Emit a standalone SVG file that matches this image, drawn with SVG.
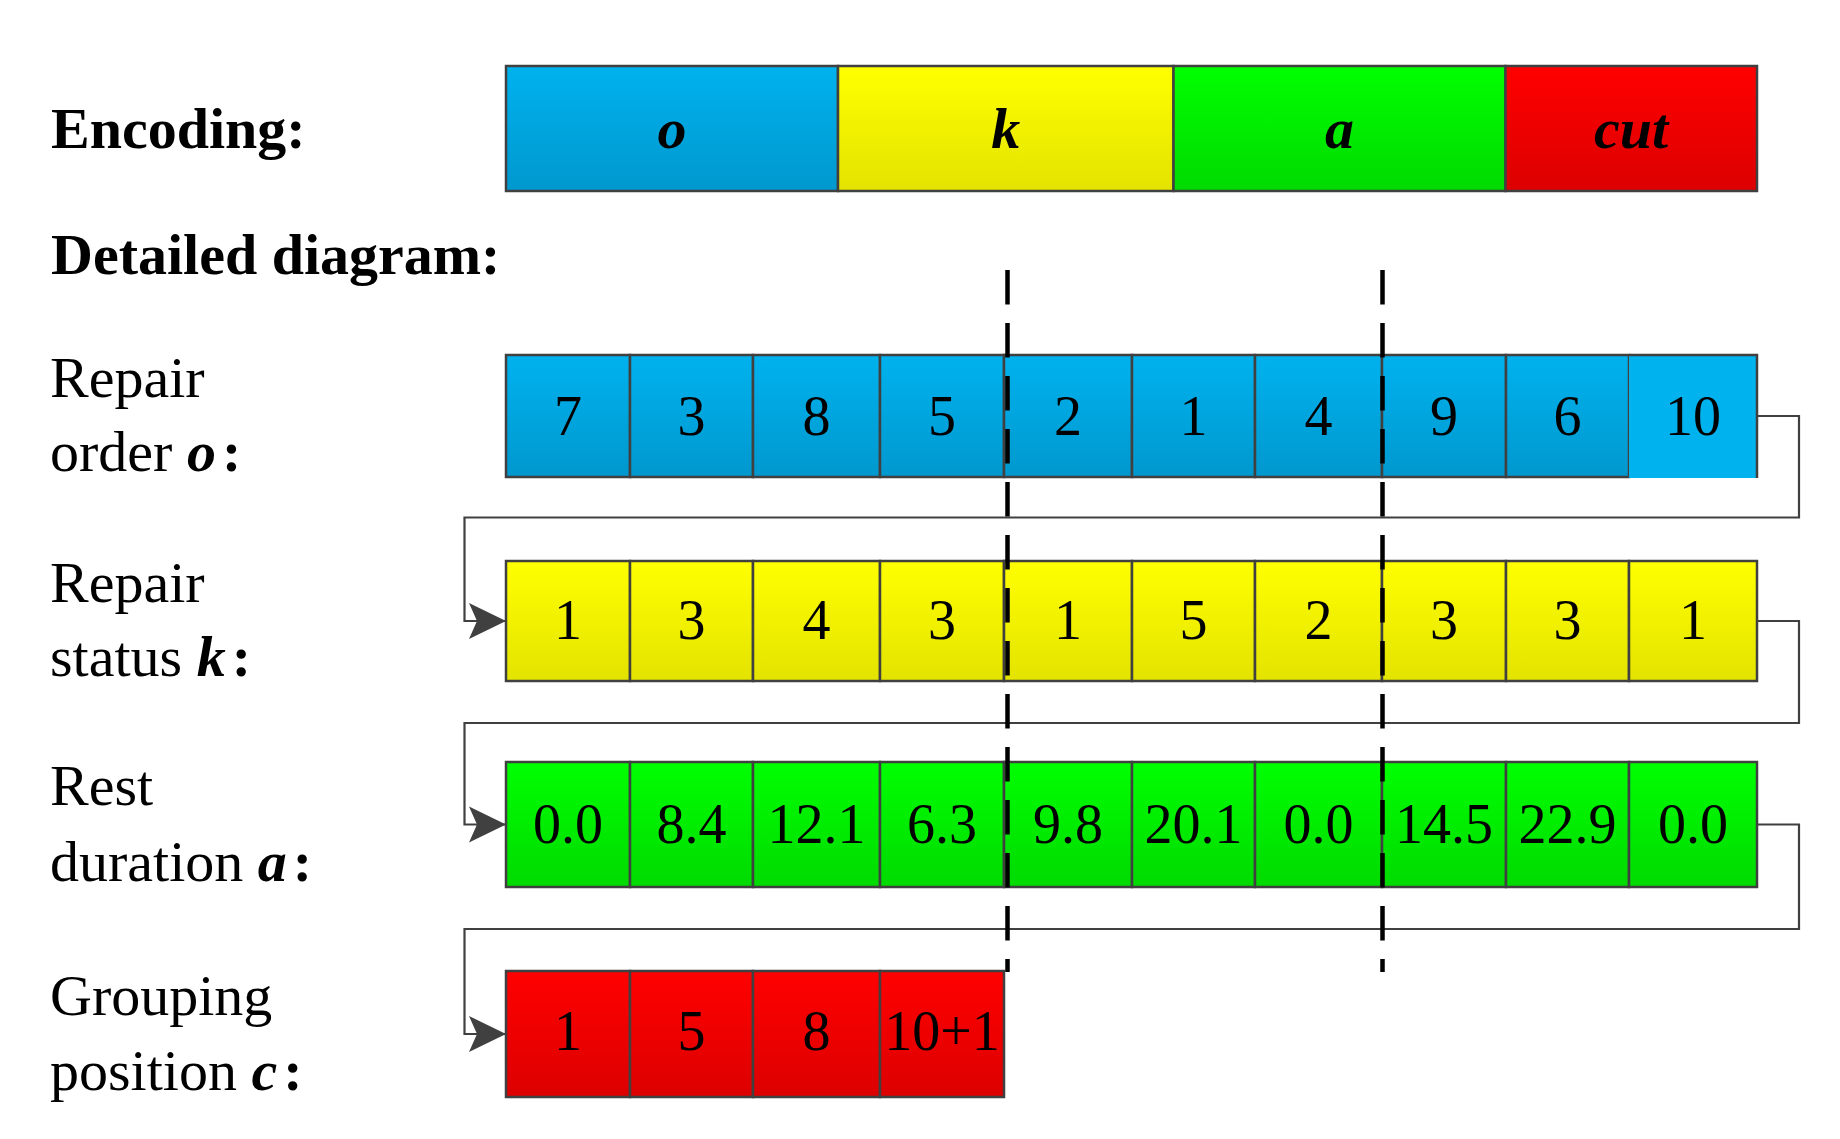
<svg xmlns="http://www.w3.org/2000/svg" width="1840" height="1139" viewBox="0 0 1840 1139">
<style>
.lbl{font-family:"Liberation Serif","Times New Roman",serif;font-size:58px;fill:#000}
.hd{font-family:"Liberation Serif","Times New Roman",serif;font-size:58px;font-weight:bold;fill:#000}
.bi{font-weight:bold;font-style:italic}
.bd{font-weight:bold}
.num{font-family:"Liberation Serif","Times New Roman",serif;font-size:56px;fill:#000;text-anchor:middle}
.enc{font-family:"Liberation Serif","Times New Roman",serif;font-size:58px;font-weight:bold;font-style:italic;fill:#000;text-anchor:middle}
.cell{stroke:#404040;stroke-width:2.5}
.b{fill:url(#gb)}.y{fill:url(#gy)}.g{fill:url(#gg)}.r{fill:url(#gr)}
.conn{fill:none;stroke:#404040;stroke-width:2.2}
.dash{fill:none;stroke:#000;stroke-width:4.5;stroke-dasharray:34.5 18.5}
</style>
<defs>
<linearGradient id="gb" x1="0" y1="0" x2="0" y2="1"><stop offset="0" stop-color="#00B2EE"/><stop offset="1" stop-color="#0098CE"/></linearGradient>
<linearGradient id="gy" x1="0" y1="0" x2="0" y2="1"><stop offset="0" stop-color="#FFFF00"/><stop offset="1" stop-color="#E3E300"/></linearGradient>
<linearGradient id="gg" x1="0" y1="0" x2="0" y2="1"><stop offset="0" stop-color="#00FF00"/><stop offset="1" stop-color="#00DA00"/></linearGradient>
<linearGradient id="gr" x1="0" y1="0" x2="0" y2="1"><stop offset="0" stop-color="#FF0000"/><stop offset="1" stop-color="#DC0000"/></linearGradient>
<marker id="arr" markerUnits="userSpaceOnUse" markerWidth="40" markerHeight="38" viewBox="0 0 40 38" refX="38" refY="19" orient="auto">
<path d="M38,19 L1,1 L9,19 L1,37 Z" fill="#404040"/>
</marker>
</defs>

<g id="labels">
<text class="hd" x="51" y="148">Encoding:</text>
<text class="hd" x="51" y="274">Detailed diagram:</text>
<g id="label-o"><text class="lbl" x="50" y="397">Repair</text><text class="lbl" x="50" y="471">order <tspan class="bi">o</tspan><tspan class="bd" dx="6">:</tspan></text></g>
<g id="label-k"><text class="lbl" x="50" y="602">Repair</text><text class="lbl" x="50" y="676">status <tspan class="bi">k</tspan><tspan class="bd" dx="6">:</tspan></text></g>
<g id="label-a"><text class="lbl" x="50" y="805">Rest</text><text class="lbl" x="50" y="881">duration <tspan class="bi">a</tspan><tspan class="bd" dx="6">:</tspan></text></g>
<g id="label-c"><text class="lbl" x="50" y="1015">Grouping</text><text class="lbl" x="50" y="1090">position <tspan class="bi">c</tspan><tspan class="bd" dx="6">:</tspan></text></g>
</g>

<g id="encoding">
<g id="enc-o"><rect class="cell b" x="506" y="66" width="332" height="125"/><text class="enc" x="672" y="148">o</text></g>
<g id="enc-k"><rect class="cell y" x="838" y="66" width="335.5" height="125"/><text class="enc" x="1005.7" y="148">k</text></g>
<g id="enc-a"><rect class="cell g" x="1173.5" y="66" width="332" height="125"/><text class="enc" x="1339.5" y="148">a</text></g>
<g id="enc-cut"><rect class="cell r" x="1505.5" y="66" width="251.5" height="125"/><text class="enc" x="1631" y="148">cut</text></g>
</g>

<g id="row-o">
<rect class="cell b" x="506" y="355" width="124" height="122"/><text class="num" x="568" y="434.5">7</text>
<rect class="cell b" x="630" y="355" width="123" height="122"/><text class="num" x="691.5" y="434.5">3</text>
<rect class="cell b" x="753" y="355" width="127" height="122"/><text class="num" x="816.5" y="434.5">8</text>
<rect class="cell b" x="880" y="355" width="124" height="122"/><text class="num" x="942" y="434.5">5</text>
<rect class="cell b" x="1004" y="355" width="128" height="122"/><text class="num" x="1068" y="434.5">2</text>
<rect class="cell b" x="1132" y="355" width="123" height="122"/><text class="num" x="1193.5" y="434.5">1</text>
<rect class="cell b" x="1255" y="355" width="127" height="122"/><text class="num" x="1318.5" y="434.5">4</text>
<rect class="cell b" x="1382" y="355" width="124" height="122"/><text class="num" x="1444" y="434.5">9</text>
<rect class="cell b" x="1506" y="355" width="123" height="122"/><text class="num" x="1567.5" y="434.5">6</text>
<rect x="1629" y="355" width="128" height="123" fill="#00B2EE"/>
<path d="M1629,355 H1757 V478" fill="none" stroke="#404040" stroke-width="2.5"/>
<text class="num" x="1693" y="434.5">10</text>
</g>

<g id="row-k">
<rect class="cell y" x="506" y="561" width="124" height="120"/><text class="num" x="568" y="639">1</text>
<rect class="cell y" x="630" y="561" width="123" height="120"/><text class="num" x="691.5" y="639">3</text>
<rect class="cell y" x="753" y="561" width="127" height="120"/><text class="num" x="816.5" y="639">4</text>
<rect class="cell y" x="880" y="561" width="124" height="120"/><text class="num" x="942" y="639">3</text>
<rect class="cell y" x="1004" y="561" width="128" height="120"/><text class="num" x="1068" y="639">1</text>
<rect class="cell y" x="1132" y="561" width="123" height="120"/><text class="num" x="1193.5" y="639">5</text>
<rect class="cell y" x="1255" y="561" width="127" height="120"/><text class="num" x="1318.5" y="639">2</text>
<rect class="cell y" x="1382" y="561" width="124" height="120"/><text class="num" x="1444" y="639">3</text>
<rect class="cell y" x="1506" y="561" width="123" height="120"/><text class="num" x="1567.5" y="639">3</text>
<rect class="cell y" x="1629" y="561" width="128" height="120"/><text class="num" x="1693" y="639">1</text>
</g>

<g id="row-a">
<rect class="cell g" x="506" y="762" width="124" height="125"/><text class="num" x="568" y="843">0.0</text>
<rect class="cell g" x="630" y="762" width="123" height="125"/><text class="num" x="691.5" y="843">8.4</text>
<rect class="cell g" x="753" y="762" width="127" height="125"/><text class="num" x="816.5" y="843">12.1</text>
<rect class="cell g" x="880" y="762" width="124" height="125"/><text class="num" x="942" y="843">6.3</text>
<rect class="cell g" x="1004" y="762" width="128" height="125"/><text class="num" x="1068" y="843">9.8</text>
<rect class="cell g" x="1132" y="762" width="123" height="125"/><text class="num" x="1193.5" y="843">20.1</text>
<rect class="cell g" x="1255" y="762" width="127" height="125"/><text class="num" x="1318.5" y="843">0.0</text>
<rect class="cell g" x="1382" y="762" width="124" height="125"/><text class="num" x="1444" y="843">14.5</text>
<rect class="cell g" x="1506" y="762" width="123" height="125"/><text class="num" x="1567.5" y="843">22.9</text>
<rect class="cell g" x="1629" y="762" width="128" height="125"/><text class="num" x="1693" y="843">0.0</text>
</g>

<g id="row-c">
<rect class="cell r" x="506" y="971" width="124" height="126"/><text class="num" x="568" y="1050">1</text>
<rect class="cell r" x="630" y="971" width="123" height="126"/><text class="num" x="691.5" y="1050">5</text>
<rect class="cell r" x="753" y="971" width="127" height="126"/><text class="num" x="816.5" y="1050">8</text>
<rect class="cell r" x="880" y="971" width="124" height="126"/><text class="num" x="942" y="1050">10+1</text>
</g>

<g id="connectors">
<path class="conn" d="M1757,416 H1799 V517.5 H464.5 V621 H506" marker-end="url(#arr)"/>
<path class="conn" d="M1757,621 H1799 V723 H464.5 V824.5 H506" marker-end="url(#arr)"/>
<path class="conn" d="M1757,824.5 H1799 V929 H464.5 V1034 H506" marker-end="url(#arr)"/>
<path class="dash" d="M1007.5,270 V972"/>
<path class="dash" d="M1382.5,270 V972"/>
</g>
</svg>
